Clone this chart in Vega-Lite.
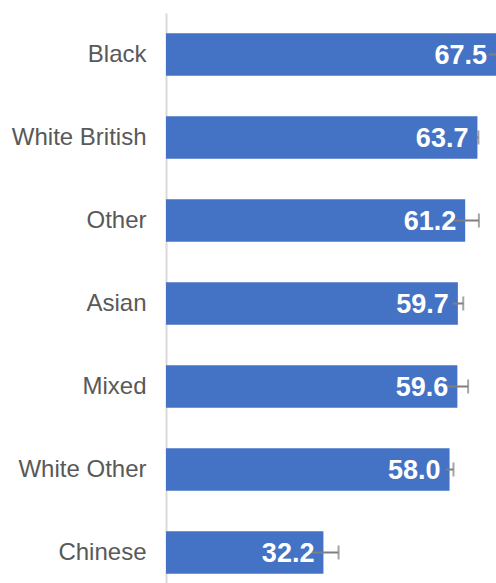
{
  "$schema": "https://vega.github.io/schema/vega-lite/v6.json",
  "autosize": "none",
  "width": 330,
  "height": 581,
  "padding": {"left": 166, "top": 13, "right": 0, "bottom": 0},
  "background": "white",
  "config": {"view": {"stroke": null}},
  "data": {"values": [
    {"group": "Black", "value": 67.5, "lo": 66.0, "hi": 69.0},
    {"group": "White British", "value": 63.7, "lo": 63.5, "hi": 63.9},
    {"group": "Other", "value": 61.2, "lo": 58.4, "hi": 64.0},
    {"group": "Asian", "value": 59.7, "lo": 58.6, "hi": 60.8},
    {"group": "Mixed", "value": 59.6, "lo": 57.4, "hi": 61.8},
    {"group": "White Other", "value": 58.0, "lo": 57.2, "hi": 58.8},
    {"group": "Chinese", "value": 32.2, "lo": 29.1, "hi": 35.3}
  ]},
  "encoding": {
    "y": {"field": "group", "type": "nominal", "sort": null,
      "scale": {"paddingInner": 0.49, "paddingOuter": 0.245},
      "axis": {"title": null, "ticks": false, "grid": false, "domainColor": "#d9d9d9", "domainWidth": 2,
        "labelFont": "Liberation Sans", "labelFontSize": 24, "labelColor": "#595959", "labelPadding": 20}}
  },
  "layer": [
    {"mark": {"type": "bar", "color": "#4472C4"},
     "encoding": {"x": {"field": "value", "type": "quantitative", "scale": {"domain": [0, 67.5], "clamp": false, "nice": false}, "axis": null}}},
    {"mark": {"type": "rule", "color": "#7f7f7f", "strokeWidth": 2, "clip": false},
     "encoding": {"x": {"field": "lo", "type": "quantitative"}, "x2": {"field": "hi"}}},
    {"mark": {"type": "tick", "color": "#7f7f7f", "thickness": 2, "size": 14, "orient": "vertical"},
     "encoding": {"x": {"field": "hi", "type": "quantitative"}}},
    {"mark": {"type": "text", "align": "right", "baseline": "middle", "dx": -9, "dy": 1, "font": "Liberation Sans", "fontSize": 27, "fontWeight": "bold", "color": "white"},
     "encoding": {"x": {"field": "value", "type": "quantitative"}, "text": {"field": "value", "type": "quantitative", "format": ".1f"}}}
  ]
}
